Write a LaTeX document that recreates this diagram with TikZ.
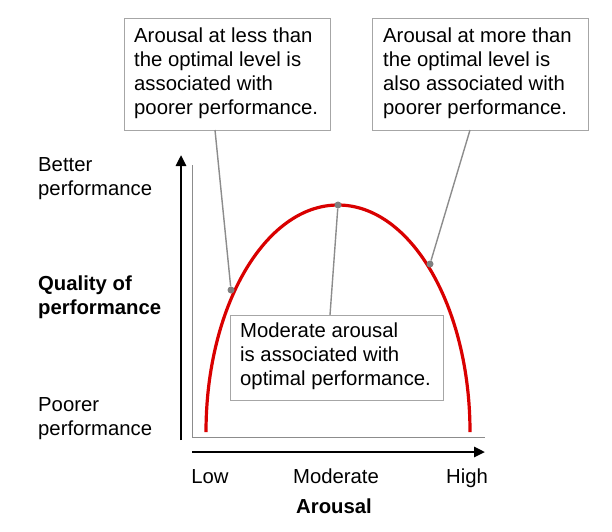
\documentclass[tikz,border=0pt]{standalone}
\usepackage{fontspec}
\setmainfont{Liberation Sans}
\usetikzlibrary{arrows.meta}
\begin{document}
\begin{tikzpicture}[x=1pt,y=-1pt,
  txt/.style={font=\fontsize{20.3}{24}\selectfont,align=left,inner sep=0pt},
  cbox/.style={draw=black!35,line width=1pt,fill=white,align=left,inner sep=0pt},
  lead/.style={draw=black!45,line width=1.4pt},
  dot/.style={circle,fill=black!50,inner sep=0pt,minimum size=7pt}]
\useasboundingbox (0,0) rectangle (612,531);
% frame
\draw[black!45,line width=1pt] (192,165) -- (192,437) -- (485,437);
% axes
\draw[line width=2.6pt,-{Triangle[length=11pt,width=10pt]}] (181,440) -- (181,155);
\draw[line width=2.6pt,-{Triangle[length=11pt,width=10pt]}] (192,452) -- (485,452);
% curve
\draw[red!85!black,line width=3.2pt] (206,432) arc[start angle=180,end angle=0,x radius=132,y radius=-227];
\node[dot] (d1) at (231,290) {};
\node[dot] (d2) at (338,205) {};
\node[dot] (d3) at (430,264) {};
% boxes
\node[cbox,minimum width=206pt,minimum height=112pt,anchor=north west] (b1) at (124,18) {};
\node[txt,anchor=north west] at (134,28) {Arousal at less than\\the optimal level is\\associated with\\poorer performance.};
\node[cbox,minimum width=216pt,minimum height=112pt,anchor=north west] (b2) at (372,18) {};
\node[txt,anchor=north west] at (383,28) {Arousal at more than\\the optimal level is\\also associated with\\poorer performance.};
\coordinate (t3) at (330,315);
\draw[lead] (d1) -- (215,130);
\draw[lead] (d3) -- (470,130);
\draw[lead] (d2) -- (t3);
\node[cbox,minimum width=213pt,minimum height=85pt,anchor=north west] (b3) at (230,315) {};
\node[txt,anchor=north west] at (240,323) {Moderate arousal\\is associated with\\optimal performance.};
% labels
\node[txt,anchor=north west] (better) at (38,157) {Better\\performance};
\node[txt,anchor=north west,font=\fontsize{20.3}{24}\selectfont\bfseries] (qual) at (38,276) {Quality of\\performance};
\node[txt,anchor=north west] (poor) at (38,397) {Poorer\\performance};
\node[txt,anchor=base] (low) at (210,483) {Low};
\node[txt,anchor=base] (mod) at (336,483) {Moderate};
\node[txt,anchor=base] (high) at (467,483) {High};
\node[txt,anchor=base,font=\fontsize{20.3}{24}\selectfont\bfseries] (ar) at (334,513) {Arousal};
\end{tikzpicture}
\end{document}
